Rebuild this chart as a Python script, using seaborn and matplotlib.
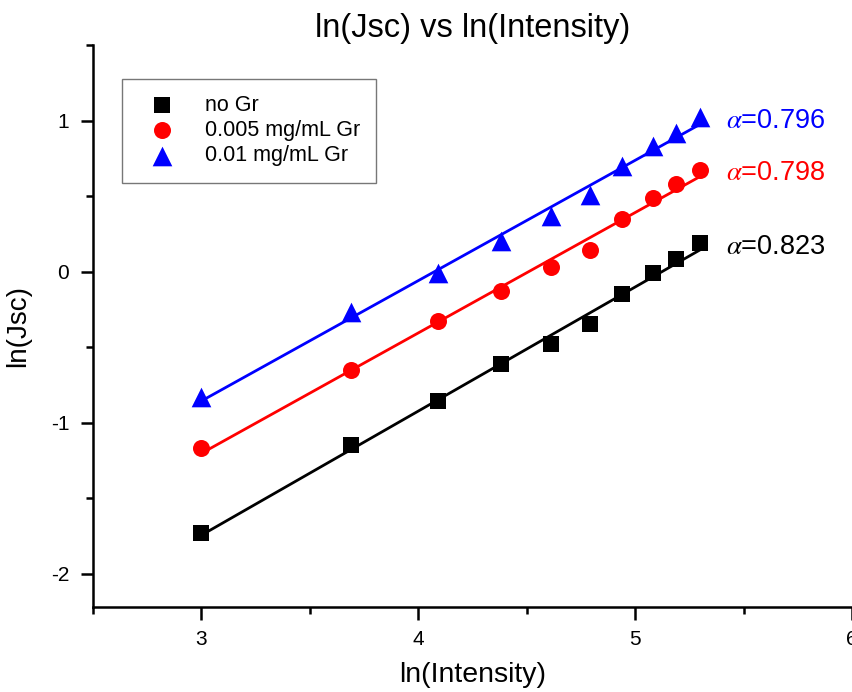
import numpy as np
import pandas as pd
import matplotlib
matplotlib.use("Agg")
import matplotlib.pyplot as plt
import seaborn as sns
from matplotlib.ticker import MultipleLocator

# Datos
ln_intensity = [3.00, 3.69, 4.09, 4.38, 4.61, 4.79, 4.94, 5.08, 5.19, 5.30]
jsc_no_gr = [-1.73, -1.15, -0.86, -0.61, -0.48, -0.35, -0.15, -0.01, 0.08, 0.19]
jsc_0005 = [-1.17, -0.65, -0.33, -0.13, 0.03, 0.14, 0.35, 0.49, 0.58, 0.67]
jsc_001 = [-0.83, -0.27, -0.01, 0.20, 0.37, 0.51, 0.70, 0.83, 0.92, 1.02]

series_names = ["no Gr", "0.005 mg/mL Gr", "0.01 mg/mL Gr"]
series_values = [jsc_no_gr, jsc_0005, jsc_001]
alpha_text = ["0.823", "0.798", "0.796"]
colores = ["#000000", "#ff0000", "#0000ff"]
marcadores = ["s", "o", "^"]
tamanos = [125, 150, 200]

sns.set_style("ticks")
plt.rcParams["font.family"] = ["Liberation Sans", "DejaVu Sans"]
plt.rcParams["mathtext.fontset"] = "stix"
plt.rcParams["axes.unicode_minus"] = False

fig = plt.figure(figsize=(8.53, 6.92), dpi=100)
ax = fig.add_axes([0.109, 0.123, 0.89, 0.812])

for nombre, vals, col, mk, sz, a in zip(series_names, series_values, colores,
                                        marcadores, tamanos, alpha_text):
    df = pd.DataFrame({"x": ln_intensity, "y": vals})
    # Ajuste lineal
    pend, inter = np.polyfit(df["x"], df["y"], 1)
    df["fit"] = pend * df["x"] + inter
    sns.lineplot(data=df, x="x", y="fit", color=col, linewidth=2, ax=ax, zorder=2)
    sns.scatterplot(data=df, x="x", y="y", color=col, marker=mk, s=sz,
                    linewidth=0, ax=ax, label=nombre, zorder=3)
    ax.text(5.42, df["fit"].iloc[-1] + 0.02, r"$\alpha$=" + a, color=col,
            fontsize=19.5, va="center", ha="left")

ax.set_xlim(2.5, 6)
ax.set_ylim(-2.22, 1.5)
ax.xaxis.set_major_locator(MultipleLocator(1))
ax.xaxis.set_minor_locator(MultipleLocator(0.5))
ax.yaxis.set_major_locator(MultipleLocator(1))
ax.yaxis.set_minor_locator(MultipleLocator(0.5))
ax.tick_params(which="major", length=9, width=1.8, labelsize=15, pad=8,
               color="black", labelcolor="black")
ax.tick_params(which="minor", length=5, width=1.8, color="black")
for lado in ["left", "bottom"]:
    ax.spines[lado].set_linewidth(1.8)
    ax.spines[lado].set_color("black")
sns.despine(ax=ax)

ax.set_xlabel("ln(Intensity)", fontsize=20.5, labelpad=9, color="black")
ax.set_ylabel("ln(Jsc)", fontsize=20, labelpad=14, color="black")
ax.set_title("ln(Jsc) vs ln(Intensity)", fontsize=23.5, pad=6, color="black")

leg = ax.legend(loc="upper left", bbox_to_anchor=(0.038, 0.94), fontsize=15.5,
                frameon=True, fancybox=False, edgecolor="#555555",
                handletextpad=0.9, borderpad=0.75, labelspacing=0.2,
                borderaxespad=0, handlelength=2.2)
leg.get_frame().set_linewidth(1.0)
for t in leg.get_texts():
    t.set_color("black")

fig.savefig("out.png", dpi=100)
plt.close(fig)
